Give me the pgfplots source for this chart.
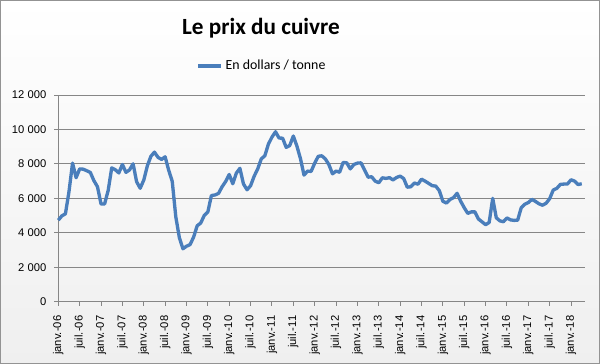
\documentclass[border=0pt]{standalone}
\usepackage{fontspec}
\usepackage{pgfplots}
\pgfplotsset{compat=1.18}
\newfontfamily\arialf{Liberation Sans}
\newfontfamily\calib{Carlito}
\definecolor{cuivre}{RGB}{74,126,187}
\definecolor{gridc}{RGB}{134,134,134}
\begin{document}
\begin{tikzpicture}[x=0.75pt,y=0.75pt]
\useasboundingbox (0,0) rectangle (600,364);
\shade[top color=white,bottom color={rgb,255:red,239;green,239;blue,239}] (0,0) rectangle (600,364);
\draw[gray!85, line width=1pt] (0.7,0.7) rectangle (599.3,363.3);
\begin{axis}[
 at={(43.725pt,46.725pt)}, anchor=south west,
 scale only axis, width=395.25pt, height=155pt,
 xmin=0, xmax=148, ymin=0, ymax=12000,
 axis x line*=bottom, axis y line*=left,
 axis line style={-, draw=gridc, line width=0.75pt},
 scaled y ticks=false,
 xtick={0,6,...,144},
 xticklabels={janv.-06,juil.-06,janv.-07,juil.-07,janv.-08,juil.-08,janv.-09,juil.-09,janv.-10,juil.-10,janv.-11,juil.-11,janv.-12,juil.-12,janv.-13,juil.-13,janv.-14,juil.-14,janv.-15,juil.-15,janv.-16,juil.-16,janv.-17,juil.-17,janv.-18},
 ytick={0,2000,4000,6000,8000,10000,12000},
 yticklabels={0,2 000,4 000,6 000,8 000,10 000,12 000},
 ymajorgrids, grid style={draw=gridc, line width=0.75pt},
 tick align=outside, major tick length=3pt,
 tick style={draw=gridc, line width=0.75pt},
 xticklabel shift=4pt,
 xticklabel style={rotate=90, anchor=east, font=\arialf\fontsize{8.4}{10}\selectfont},
 yticklabel style={font=\arialf\fontsize{8.4}{10}\selectfont, xshift=-2.5pt},
 legend style={at={(0.387,1.14)}, anchor=center, draw=none, fill=none,
   font=\calib\fontsize{10.4}{12}\selectfont, inner sep=0pt},
 legend image code/.code={\draw[#1] (0pt,0pt) -- (17.5pt,0pt);},
 clip=false,
]
\addplot[cuivre, line width=2.5pt, line join=round] table {
x y
0 4734
1 4982
2 5103
3 6388
4 8046
5 7198
6 7711
7 7694
8 7603
9 7500
10 7029
11 6676
12 5670
13 5676
14 6452
15 7766
16 7662
17 7477
18 7970
19 7510
20 7651
21 8008
22 6963
23 6587
24 7061
25 7888
26 8439
27 8685
28 8383
29 8262
30 8414
31 7635
32 6990
33 4926
34 3717
35 3072
36 3221
37 3315
38 3750
39 4407
40 4569
41 5014
42 5216
43 6165
44 6196
45 6288
46 6676
47 6982
48 7386
49 6848
50 7463
51 7745
52 6838
53 6499
54 6735
55 7284
56 7709
57 8292
58 8470
59 9147
60 9556
61 9868
62 9503
63 9493
64 8960
65 9067
66 9619
67 9041
68 8315
69 7350
70 7581
71 7566
72 8041
73 8441
74 8471
75 8289
76 7955
77 7423
78 7584
79 7516
80 8088
81 8062
82 7711
83 7966
84 8047
85 8061
86 7646
87 7231
88 7253
89 7000
90 6907
91 7193
92 7159
93 7203
94 7071
95 7215
96 7291
97 7149
98 6650
99 6674
100 6891
101 6821
102 7113
103 7002
104 6872
105 6737
106 6713
107 6446
108 5831
109 5729
110 5940
111 6042
112 6295
113 5833
114 5457
115 5127
116 5217
117 5216
118 4800
119 4638
120 4472
121 4599
122 6000
123 4873
124 4695
125 4642
126 4864
127 4751
128 4722
129 4731
130 5450
131 5660
132 5755
133 5941
134 5825
135 5685
136 5600
137 5720
138 5985
139 6485
140 6580
141 6810
142 6830
143 6835
144 7080
145 7000
146 6800
147 6850
};
\legend{En dollars / tonne}
\end{axis}
\node[font=\calib\bfseries\fontsize{17.4}{20}\selectfont, anchor=base] at (261,329.7) {Le prix du cuivre};
\end{tikzpicture}
\end{document}
